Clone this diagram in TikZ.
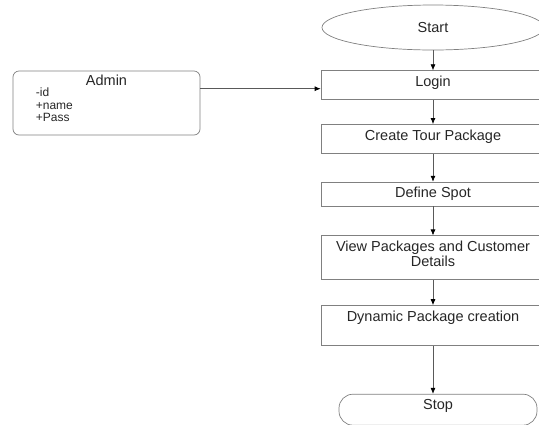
\documentclass[tikz,border=0pt]{standalone}
\usepackage{fontspec}
\setmainfont{Liberation Sans}
\usetikzlibrary{positioning, shapes.geometric, arrows.meta}

\tikzset{
	box/.style={draw=black!50, line width=0.7pt, rectangle, minimum width=224pt, inner sep=0pt},
	title/.style={anchor=north, inner sep=0pt, yshift=-5.5pt, align=center, text=black!85,
		font=\fontsize{14.5}{10}\selectfont},
	flow/.style={draw=black!65, line width=0.7pt, -{Latex[length=6pt,width=5pt,black]}},
}

\begin{document}
\begin{tikzpicture}[x=1pt, y=1pt, font=\fontsize{14.5}{10}\selectfont]
	\path[use as bounding box, clip] (0,0) rectangle (539,-424);

	% main flow
	\node[ellipse, draw=black!50, line width=0.7pt, minimum width=222pt, minimum height=45pt, text=black!85] (start) at (433,-27.5) {Start};
	\node[box, minimum height=29pt, below=20pt of start, label={[title]north:Login}] (login) {};
	\node[box, minimum height=29pt, below=24pt of login, label={[title]north:Create Tour Package}] (tour) {};
	\node[box, minimum height=24pt, below=28pt of tour, label={[title]north:Define Spot}] (spot) {};
	\node[box, minimum height=44pt, below=29pt of spot, label={[title]north:{View Packages and Customer\\Details}}] (view) {};
	\node[box, minimum height=40pt, below=25pt of view, label={[title]north:Dynamic Package creation}] (dynpkg) {};
	\node[box, rounded corners=14pt, minimum width=198pt, minimum height=31pt, below=48pt of dynpkg, xshift=5pt, label={[title]north:Stop}] (stop) {};

	\draw[flow] (start) -- (login);
	\draw[flow] (login) -- (tour);
	\draw[flow] (tour) -- (spot);
	\draw[flow] (spot) -- (view);
	\draw[flow] (view) -- (dynpkg);
	\draw[flow] (dynpkg.south) -- (dynpkg.south |- stop.north);

	% admin class
	\node[box, rounded corners=6pt, minimum width=187pt, minimum height=64pt, label={[title, yshift=1pt]north:Admin}] (admin) at (106.5,-103) {};
	\node[anchor=north west, inner sep=0pt, align=left, text=black!85, font=\fontsize{12}{12.5}\selectfont] (attrs) at ([xshift=23pt, yshift=-17pt]admin.north west) {-id\\+name\\+Pass};

	\coordinate (in) at ([yshift=-3.5pt]login.west);
	\draw[flow] (admin.east |- in) -- (in);
\end{tikzpicture}
\end{document}
